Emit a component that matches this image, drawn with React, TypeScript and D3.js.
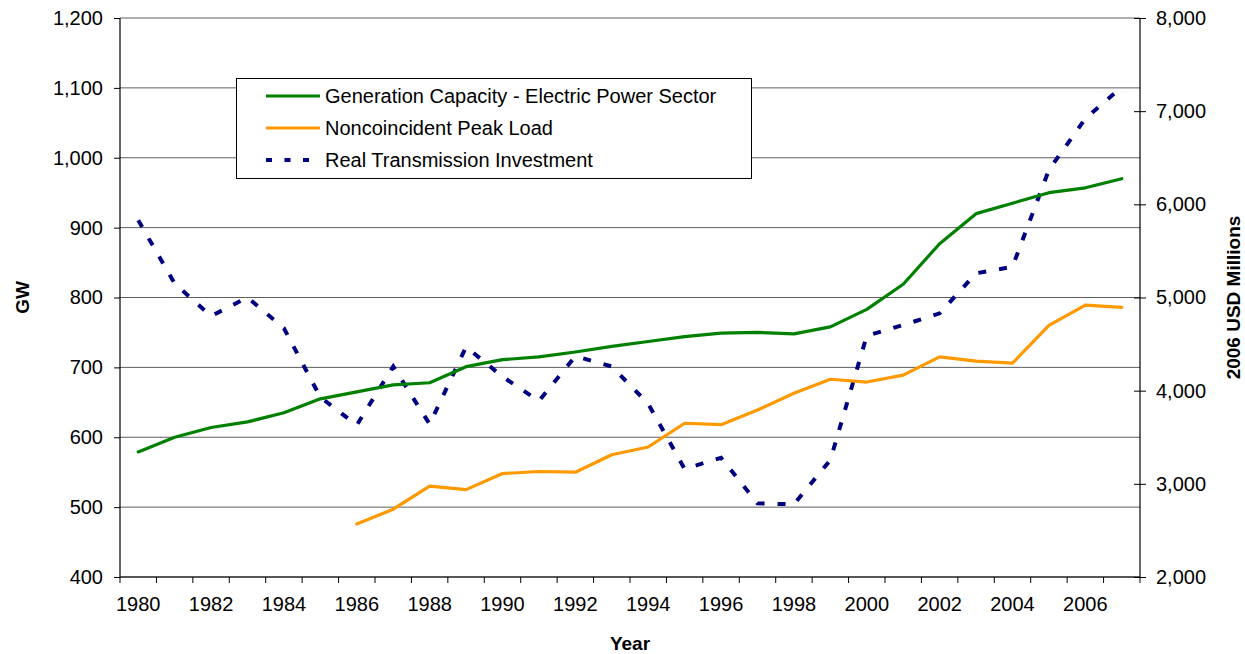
import React, { useEffect, useRef } from 'react';
import * as d3 from 'd3';

const years = [1980, 1981, 1982, 1983, 1984, 1985, 1986, 1987, 1988, 1989, 1990, 1991, 1992, 1993,
  1994, 1995, 1996, 1997, 1998, 1999, 2000, 2001, 2002, 2003, 2004, 2005, 2006, 2007];

// GW
const generationCapacity = [579, 600, 614, 622, 635, 655, 665, 675, 678, 701, 711, 715, 722, 730,
  737, 744, 749, 750, 748, 758, 783, 819, 877, 920, 935, 950, 957, 970];

// GW, no data before 1986
const peakLoad: (number | null)[] = [null, null, null, null, null, null, 476, 497, 530, 525, 548, 551, 550, 575,
  586, 620, 618, 639, 663, 683, 679, 689, 715, 709, 706, 760, 789, 786];

// 2006 USD millions (right axis)
const transmission = [5830, 5150, 4800, 5000, 4670, 3930, 3630, 4260, 3640, 4470, 4150, 3890, 4370, 4260,
  3860, 3160, 3280, 2790, 2780, 3256, 4590, 4705, 4830, 5260, 5330, 6370, 6920, 7260];

const leftTicks = [400, 500, 600, 700, 800, 900, 1000, 1100, 1200];
const rightTicks = [2000, 3000, 4000, 5000, 6000, 7000, 8000];

const legendItems = [
  { label: 'Generation Capacity - Electric Power Sector', color: '#008000', dash: null },
  { label: 'Noncoincident Peak Load', color: '#ff9900', dash: null },
  { label: 'Real Transmission Investment', color: '#000080', dash: '6,12.5' },
];

const font = '"Liberation Sans", Arial, sans-serif';
const fs = 20;

function App(): JSX.Element {
  const svgRef = useRef<SVGSVGElement>(null);

  useEffect(() => {
    document.body.style.margin = '0';
    const svg = d3.select(svgRef.current);
    svg.selectAll('*').remove();

    const left = 120, right = 1140, top = 18, bottom = 577;

    const x = d3.scaleBand<number>().domain(years).range([left, right]).paddingInner(0).paddingOuter(0);
    const cx = (yr: number) => (x(yr) ?? 0) + x.bandwidth() / 2;
    const yL = d3.scaleLinear().domain([400, 1200]).range([bottom, top]);
    const yR = d3.scaleLinear().domain([2000, 8000]).range([bottom, top]);

    // gridlines
    svg.append('g')
      .selectAll('line')
      .data(leftTicks)
      .join('line')
      .attr('x1', left).attr('x2', right)
      .attr('y1', d => yL(d)).attr('y2', d => yL(d))
      .attr('stroke', '#5e5e5e')
      .attr('stroke-width', 1);

    // left axis
    const gL = svg.append('g')
      .attr('transform', `translate(${left},0)`)
      .call(d3.axisLeft(yL).tickValues(leftTicks).tickSize(6).tickPadding(11).tickFormat(d3.format(',')));
    // right axis
    const gR = svg.append('g')
      .attr('transform', `translate(${right},0)`)
      .call(d3.axisRight(yR).tickValues(rightTicks).tickSize(6).tickPadding(10).tickFormat(d3.format(',')));
    gR.selectAll('.tick line').attr('x1', -6);
    // bottom axis
    const gB = svg.append('g')
      .attr('transform', `translate(0,${bottom})`)
      .call(d3.axisBottom(x).tickValues(years.filter((_, i) => i % 2 === 0)).tickSize(0).tickPadding(20));
    gB.append('g')
      .selectAll('line')
      .data(years.concat([years[years.length - 1] + 1]))
      .join('line')
      .attr('x1', (_, i) => left + i * x.bandwidth())
      .attr('x2', (_, i) => left + i * x.bandwidth())
      .attr('y1', 0).attr('y2', 6)
      .attr('stroke', '#000');

    [gL, gR, gB].forEach(g => {
      g.selectAll('.domain').attr('stroke', '#000').attr('stroke-width', 1.2);
      g.selectAll('.tick line').attr('stroke', '#000');
      g.selectAll('text').attr('font-family', font).attr('font-size', fs).attr('fill', '#000');
    });
    gL.select('.domain').attr('d', `M0,${top}V${bottom}`);
    gR.select('.domain').attr('d', `M0,${top}V${bottom}`);
    gB.select('.domain').attr('d', `M${left},0H${right}`);

    // lines
    const genLine = d3.line<number>()
      .x((_, i) => cx(years[i]))
      .y(d => yL(d));
    const peakLine = d3.line<number | null>()
      .defined(d => d !== null)
      .x((_, i) => cx(years[i]))
      .y(d => yL(d as number));
    const transLine = d3.line<number>()
      .x((_, i) => cx(years[i]))
      .y(d => yR(d));

    svg.append('path')
      .datum(transmission)
      .attr('d', transLine)
      .attr('fill', 'none')
      .attr('stroke', '#000080')
      .attr('stroke-width', 4)
      .attr('stroke-dasharray', '8,13');

    svg.append('path')
      .datum(peakLoad)
      .attr('d', peakLine)
      .attr('fill', 'none')
      .attr('stroke', '#ff9900')
      .attr('stroke-width', 3.2)
      .attr('stroke-linejoin', 'round')
      .attr('stroke-linecap', 'round');

    svg.append('path')
      .datum(generationCapacity)
      .attr('d', genLine)
      .attr('fill', 'none')
      .attr('stroke', '#008000')
      .attr('stroke-width', 3.2)
      .attr('stroke-linejoin', 'round')
      .attr('stroke-linecap', 'round');

    // legend
    const lg = svg.append('g');
    lg.append('rect')
      .attr('x', 236.5).attr('y', 78.5)
      .attr('width', 515).attr('height', 100)
      .attr('fill', '#fff')
      .attr('stroke', '#000')
      .attr('stroke-width', 1);
    const rows = lg.selectAll('g.row')
      .data(legendItems)
      .join('g')
      .attr('class', 'row')
      .attr('transform', (_, i) => `translate(0,${96 + i * 32})`);
    rows.append('line')
      .attr('x1', 266).attr('x2', 320)
      .attr('y1', 0).attr('y2', 0)
      .attr('stroke', d => d.color)
      .attr('stroke-width', d => (d.dash ? 4 : 3.2))
      .attr('stroke-dasharray', d => d.dash);
    rows.append('text')
      .attr('x', 325).attr('y', 0)
      .attr('dy', '0.35em')
      .attr('font-family', font)
      .attr('font-size', fs)
      .text(d => d.label);

    // axis titles
    svg.append('text')
      .attr('transform', `translate(29,${(top + bottom) / 2}) rotate(-90)`)
      .attr('text-anchor', 'middle')
      .attr('font-family', font).attr('font-weight', 'bold').attr('font-size', 19)
      .text('GW');
    svg.append('text')
      .attr('transform', `translate(1240,${(top + bottom) / 2}) rotate(-90)`)
      .attr('text-anchor', 'middle')
      .attr('font-family', font).attr('font-weight', 'bold').attr('font-size', 19)
      .text('2006 USD Millions');
    svg.append('text')
      .attr('x', (left + right) / 2).attr('y', 650)
      .attr('text-anchor', 'middle')
      .attr('font-family', font).attr('font-weight', 'bold').attr('font-size', 19)
      .text('Year');
  }, []);

  return (
    <div>
      <svg ref={svgRef} width={1245} height={654} style={{ display: 'block', background: '#fff' }}></svg>
    </div>
  );
}

export default App;
